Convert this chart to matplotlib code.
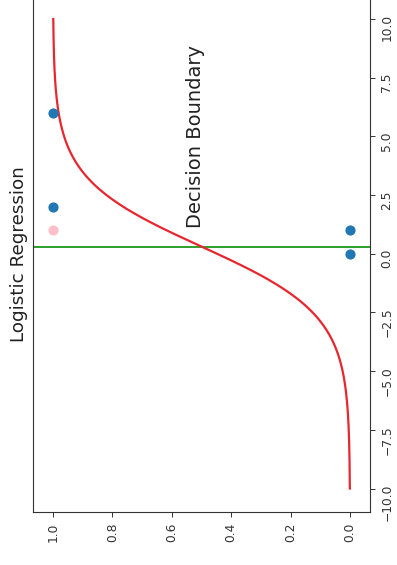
import numpy as np
import matplotlib
matplotlib.use('Agg')
import matplotlib.pyplot as plt

# training points (feature, label) and the test point
train_x = [0, 1, 2, 6]
train_y = [0, 0, 1, 1]
test_x = [1]
test_y = [1]

# fitted model
coef = 0.69
intercept = -0.21
boundary = -intercept / coef

curve_x = np.linspace(-10, 10, 300)
curve_p = 1.0 / (1.0 + np.exp(-(coef * curve_x + intercept)))

prob_ticks = [1.0, 0.8, 0.6, 0.4, 0.2, 0.0]
x_ticks = [-10.0, -7.5, -5.0, -2.5, 0.0, 2.5, 5.0, 7.5, 10.0]

fig = plt.figure(figsize=(3.97, 5.65), dpi=100)
# the chart is shown turned a quarter turn, so the axes run sideways
ax = fig.add_axes([33 / 397, 53 / 565, 337 / 397, 569.5 / 565 - 53 / 565])

ax.plot(curve_p, curve_x, color='#e8262e', lw=1.6, zorder=3)
ax.scatter(train_y, train_x, color='#1f77b4', s=40, zorder=4)
ax.scatter(test_y, test_x, color='pink', s=40, zorder=4)
ax.axhline(boundary, color='#2ca02c', lw=1.4, zorder=2)

ax.set_xlim(1.067, -0.067)
ax.set_ylim(-11, 11)
ax.set_xticks(prob_ticks)
ax.set_xticklabels(['%.1f' % v for v in prob_ticks])
ax.set_yticks(x_ticks)
ax.set_yticklabels([('%.1f' % v).replace('-', '\u2212') for v in x_ticks])
ax.yaxis.tick_right()
ax.tick_params(axis='both', labelrotation=90, labelsize=8.8, length=3.5,
               width=0.7, pad=4, colors='#333333')
for sp in ax.spines.values():
    sp.set_linewidth(0.8)
    sp.set_color('#333333')

ax.text(0.488, boundary + 0.8, 'Decision Boundary', rotation=90,
        ha='right', va='bottom', fontsize=14, color='#222222')
ax.text(-5 / 337, 0.5, 'Logistic Regression', transform=ax.transAxes,
        rotation=90, ha='right', va='center', fontsize=13.2, color='#222222')

fig.savefig('out.png', dpi=100)
